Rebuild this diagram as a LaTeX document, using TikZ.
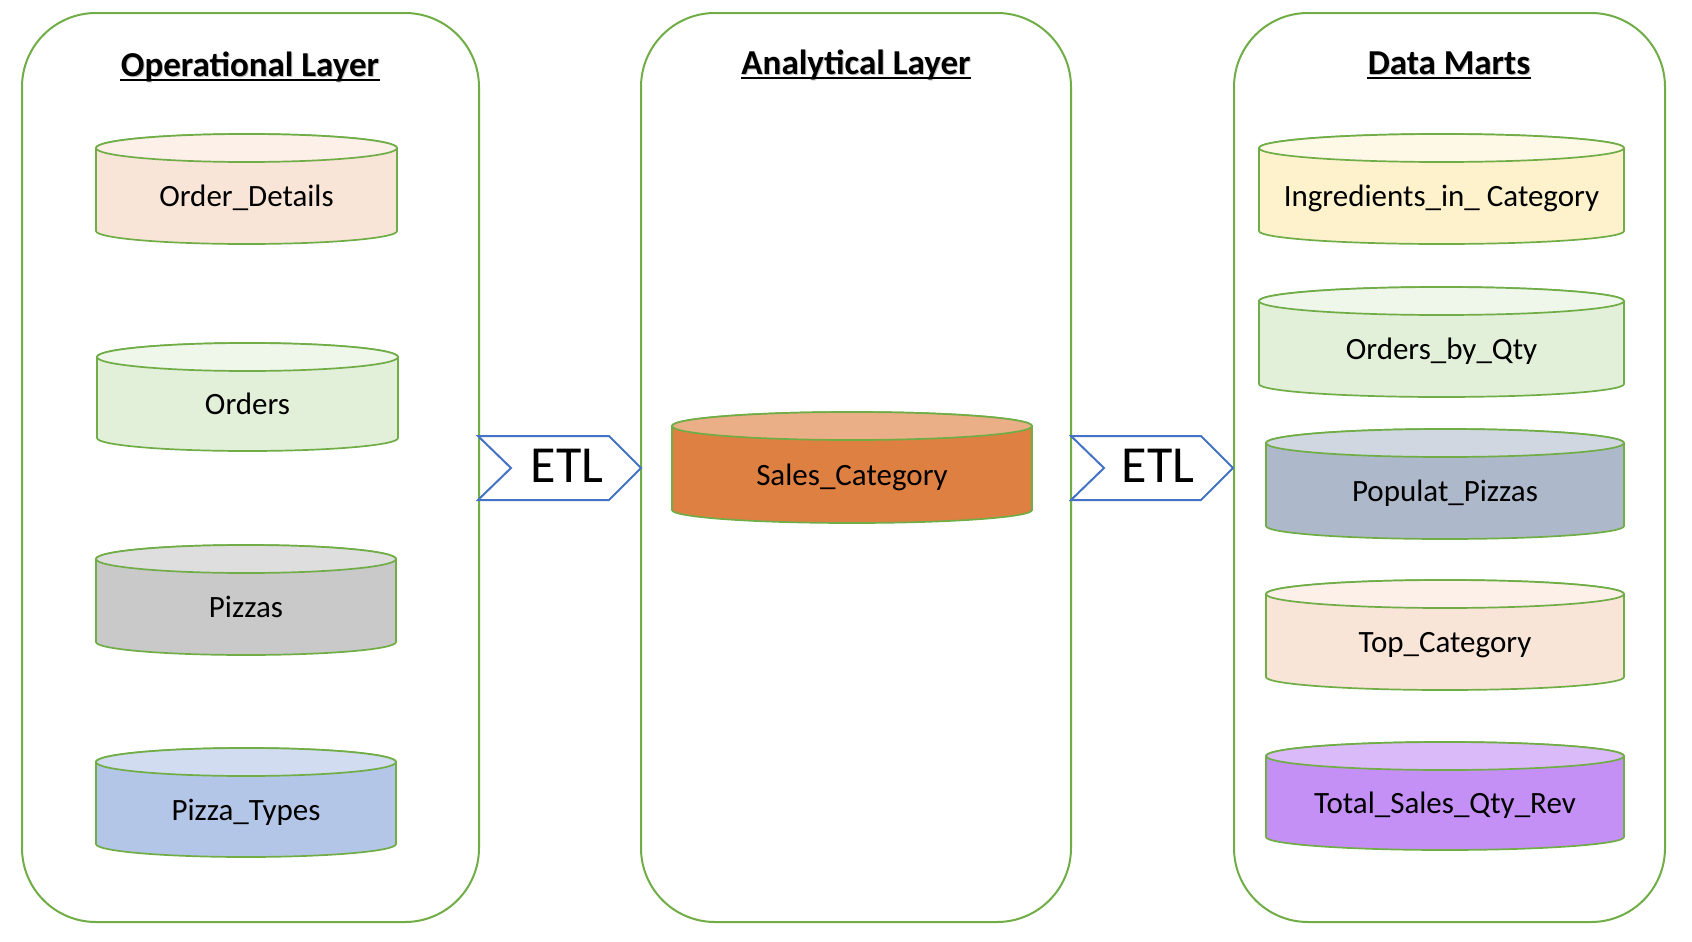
\documentclass[tikz,border=0pt]{standalone}
\usepackage{fontspec}
\setmainfont{Carlito}
\usetikzlibrary{calc}
\definecolor{panelgreen}{HTML}{70AD47}
\definecolor{etlblue}{HTML}{4472C4}
\definecolor{peach}{HTML}{F8E5D7}
\definecolor{peachtop}{HTML}{FCF0E8}
\definecolor{mint}{HTML}{E2EFD9}
\definecolor{minttop}{HTML}{EFF6EA}
\definecolor{stone}{HTML}{C9C9C9}
\definecolor{stonetop}{HTML}{DEDEDE}
\definecolor{sky}{HTML}{B4C6E7}
\definecolor{skytop}{HTML}{D1DCF0}
\definecolor{rust}{HTML}{DF8043}
\definecolor{rusttop}{HTML}{EAAF87}
\definecolor{cream}{HTML}{FEF2CD}
\definecolor{creamtop}{HTML}{FEF8E6}
\definecolor{slate}{HTML}{ADB9CA}
\definecolor{slatetop}{HTML}{D0D7E1}
\definecolor{lilac}{HTML}{C490F5}
\definecolor{lilactop}{HTML}{DBBAF9}
% cylinder: (left,top,right,bottom)[body,top] name text
\def\dbcyl(#1,#2,#3,#4)[#5,#6]#7#8{%
  \filldraw[cylline,fill=#5] (#1,#2+14) -- (#1,#4-13) arc (180:0:{(#3-#1)/2} and 13)
    -- (#3,#2+14) arc (0:-180:{(#3-#1)/2} and 14) -- cycle;
  \filldraw[cylline,fill=#6] ({(#1+#3)/2},#2+14) ellipse ({(#3-#1)/2} and 14);
  \node[dbtext] (#7) at ({(#1+#3)/2},{(#2+#4+15)/2+10}) {#8};
}

\begin{document}
\begin{tikzpicture}[x=0.5pt,y=-0.5pt,
  panel/.style={draw=panelgreen, line width=1pt, rounded corners=37pt},
  cylline/.style={draw=panelgreen, line width=0.85pt},
  dbtext/.style={anchor=base, inner sep=0pt, font=\fontsize{15.5}{18}\selectfont},
  layertitle/.style={anchor=base, inner sep=0pt, font=\fontsize{17.5}{21}\selectfont\bfseries},
  etlarrow/.style={draw=etlblue, fill=white, line width=1pt, line join=miter},
  etltext/.style={anchor=base, inner sep=0pt, font=\fontsize{26}{30}\selectfont}]
  \useasboundingbox (0,0) rectangle (1692,942);

  % layers
  \draw[panel] (22,13) rectangle (479,922);
  \draw[panel] (641,13) rectangle (1071,922);
  \draw[panel] (1234,13) rectangle (1665,922);

  % titles
  \node[layertitle, text=black!25] at (251,77) {Operational Layer};
  \node[layertitle] (optitle) at (250,76) {Operational Layer};
  \node[layertitle, text=black!25] at (857,75) {Analytical Layer};
  \node[layertitle] (antitle) at (856,74) {Analytical Layer};
  \node[layertitle, text=black!25] at (1450,75) {Data Marts};
  \node[layertitle] (dmtitle) at (1449,74) {Data Marts};
  \foreach \t in {optitle,antitle,dmtitle}
    \draw[line width=1.25pt] ($(\t.base west)+(0,4)$) -- ($(\t.base east)+(0,4)$);

  % ETL arrows
  \draw[etlarrow] (478,436) -- (609,436) -- (641,468) -- (609,500) -- (478,500) -- (511,468) -- cycle;
  \node[etltext] (etlone) at (567,482) {ETL};
  \draw[etlarrow] (1071,436) -- (1201,436) -- (1233,468) -- (1201,500) -- (1071,500) -- (1104,468) -- cycle;
  \node[etltext] (etltwo) at (1158,482) {ETL};

  % operational tables
  \dbcyl(96,134,397,244)[peach,peachtop]{orderdetails}{Order\_Details}
  \dbcyl(97,343,398,451)[mint,minttop]{orders}{Orders}
  \dbcyl(96,545,396,655)[stone,stonetop]{pizzas}{Pizzas}
  \dbcyl(96,748,396,857)[sky,skytop]{pizzatypes}{Pizza\_Types}

  % analytical table
  \dbcyl(672,412,1032,523)[rust,rusttop]{salescat}{Sales\_Category}

  % data marts
  \dbcyl(1259,134,1624,244)[cream,creamtop]{ingredients}{Ingredients\_in\_ Category}
  \dbcyl(1259,287,1624,397)[mint,minttop]{ordersqty}{Orders\_by\_Qty}
  \dbcyl(1266,429,1624,539)[slate,slatetop]{popular}{Populat\_Pizzas}
  \dbcyl(1266,580,1624,690)[peach,peachtop]{topcat}{Top\_Category}
  \dbcyl(1266,742,1624,850)[lilac,lilactop]{totalsales}{Total\_Sales\_Qty\_Rev}
\end{tikzpicture}
\end{document}
